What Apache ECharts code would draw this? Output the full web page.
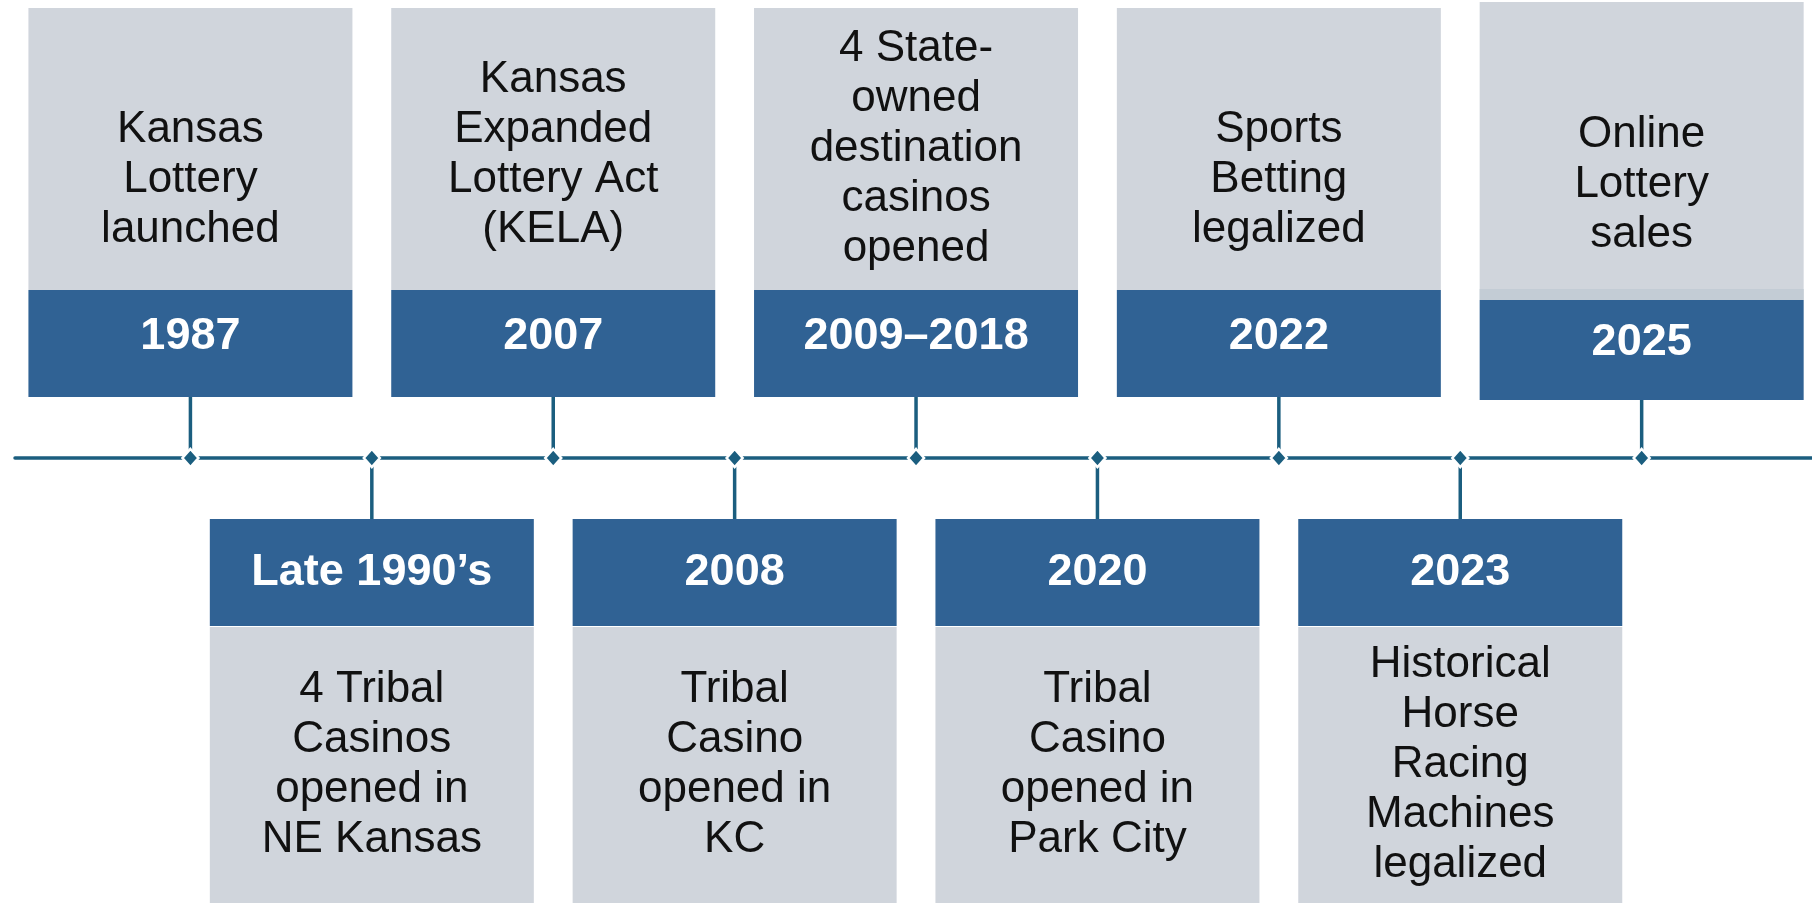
<!DOCTYPE html>
<html>
<head>
<meta charset="utf-8">
<script src="https://cdn.jsdelivr.net/npm/echarts@6/dist/echarts.min.js"></script>
<style>
  html, body { margin: 0; padding: 0; background: #fff; }
  #chart { width: 1812px; height: 906px; }
</style>
</head>
<body>
<div id="chart"></div>
<script>
// timeline milestones, left to right
const years = ['1987', 'Late 1990’s', '2007', '2008', '2009–2018', '2020', '2022', '2023', '2025']
const events = [
  'Kansas\nLottery\nlaunched',
  '4 Tribal\nCasinos\nopened in\nNE Kansas',
  'Kansas\nExpanded\nLottery Act\n(KELA)',
  'Tribal\nCasino\nopened in\nKC',
  '4 State-\nowned\ndestination\ncasinos\nopened',
  'Tribal\nCasino\nopened in\nPark City',
  'Sports\nBetting\nlegalized',
  'Historical\nHorse\nRacing\nMachines\nlegalized',
  'Online\nLottery\nsales'
]
const sides = ['top', 'bottom', 'top', 'bottom', 'top', 'bottom', 'top', 'bottom', 'top']

const LINE = '#1b5e7f'
const BAND = '#306294'
const GRAY = '#d0d5dc'
const FONT = '"Liberation Sans", Arial, sans-serif'

const chart = echarts.init(document.getElementById('chart'))

// box geometry (px, relative to the timeline)
const BOX_W = 324
const STEM = 61
const BAND_H = 107
const TOP_GRAY = 282
const BOT_GRAY = 276
const LH = 50

function renderItem(params, api) {
  const p = api.coord([api.value(0), api.value(1)])
  const x = p[0], y = p[1]
  const i = params.dataIndex
  const up = sides[i] === 'top'
  // the last (newest) box sits a touch lower with a pale strip above its band
  const isLast = i === years.length - 1
  const left = x - BOX_W / 2
  const children = []
  const nLines = events[i].split('\n').length
  let bandTop, bandH = BAND_H, grayTop, grayH, textY, yearY

  if (up) {
    const stem = isLast ? STEM - 3 : STEM
    if (isLast) bandH = BAND_H - 7
    bandTop = y - stem - bandH
    grayTop = y - STEM - BAND_H - TOP_GRAY - (isLast ? 6 : 0)
    grayH = bandTop - grayTop
    yearY = bandTop + bandH / 2 - 7
    // text sits low in the box unless it would not fit
    const last = y - 228 + (isLast ? 5 : 0)
    const first = last - (nLines - 1) * LH
    textY = (first - LH / 2 < grayTop + 10) ? grayTop + grayH / 2 : (first + last) / 2
    children.push({ type: 'line', shape: { x1: x, y1: bandTop + bandH, x2: x, y2: y }, style: { stroke: LINE, lineWidth: 3.5 } })
  } else {
    bandTop = y + STEM
    grayTop = bandTop + BAND_H + 1
    grayH = BOT_GRAY
    yearY = bandTop + BAND_H / 2
    textY = grayTop + grayH / 2
    children.push({ type: 'line', shape: { x1: x, y1: y, x2: x, y2: bandTop }, style: { stroke: LINE, lineWidth: 3.5 } })
  }

  children.push(
    { type: 'rect', shape: { x: left, y: grayTop, width: BOX_W, height: grayH }, style: { fill: GRAY } }
  )
  if (isLast) {
    children.push({ type: 'rect', shape: { x: left, y: bandTop - 11, width: BOX_W, height: 11 }, style: { fill: '#c3ccd5' } })
  }
  children.push(
    { type: 'rect', shape: { x: left, y: bandTop, width: BOX_W, height: bandH }, style: { fill: BAND } },
    {
      type: 'text',
      style: {
        text: years[i], x: x, y: yearY, align: 'center', verticalAlign: 'middle',
        fill: '#fff', font: 'bold 45px ' + FONT
      }
    },
    {
      type: 'text',
      style: {
        text: events[i], x: x, y: textY, align: 'center', verticalAlign: 'middle',
        fill: '#111', font: '44px ' + FONT, lineHeight: LH
      }
    },
    {
      type: 'polygon',
      shape: { points: [[x, y - 9], [x + 8, y], [x, y + 9], [x - 8, y]] },
      style: { fill: LINE, stroke: '#fff', lineWidth: 2.5 },
      z2: 10
    }
  )
  return { type: 'group', children }
}

chart.setOption({
  animation: false,
  grid: { left: 15, right: 0, top: 0, bottom: 448 },
  xAxis: {
    type: 'value',
    min: -0.967,
    max: 8.939,
    axisLine: { show: true, lineStyle: { color: LINE, width: 3.5 } },
    axisTick: { show: false },
    axisLabel: { show: false },
    splitLine: { show: false }
  },
  yAxis: { type: 'value', min: 0, max: 1, show: false },
  series: [{
    type: 'custom',
    clip: false,
    renderItem,
    data: years.map((y, i) => [i, 0])
  }]
})
</script>
</body>
</html>
